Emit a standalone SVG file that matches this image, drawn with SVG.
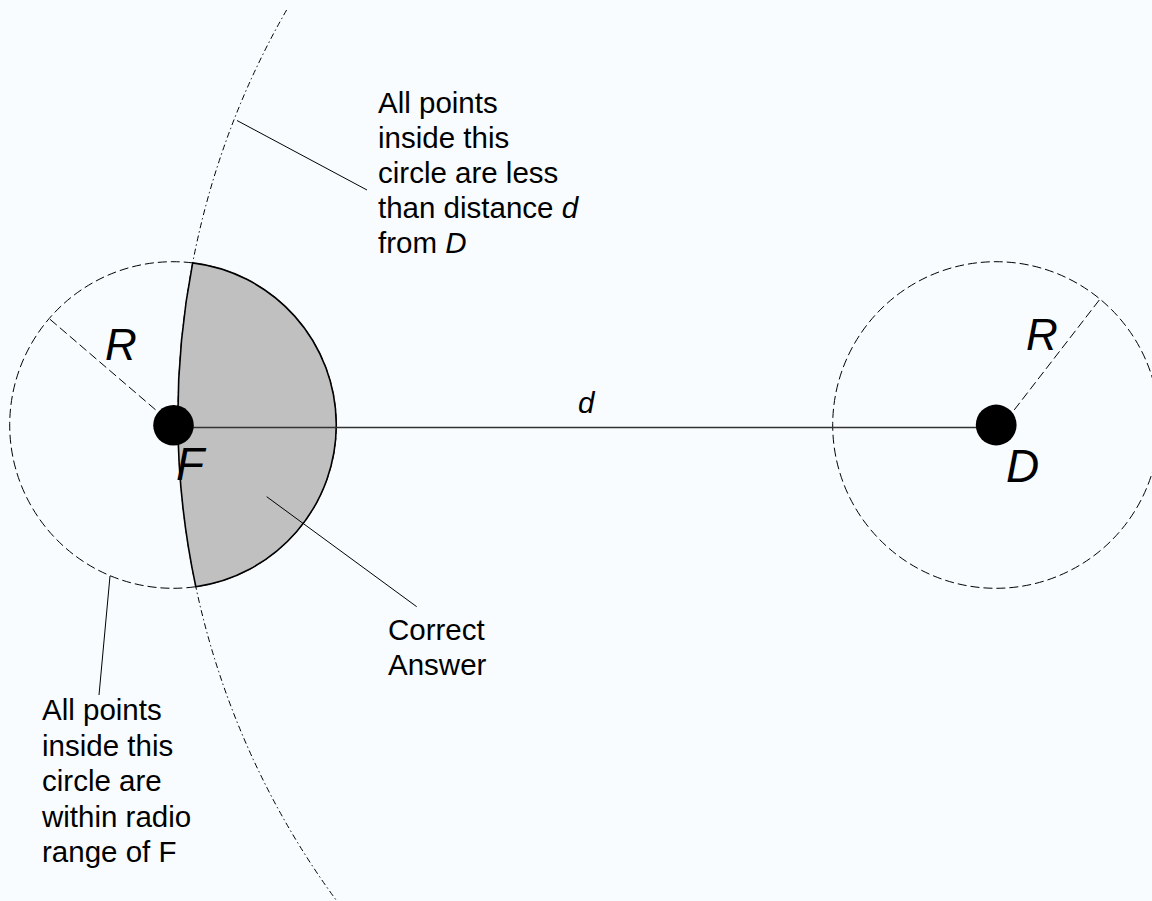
<svg xmlns="http://www.w3.org/2000/svg" width="1152" height="901" viewBox="0 0 1152 901">
  <style>
    .lbl { font-family: "Liberation Sans", Arial, sans-serif; font-size: 29.5px; fill: #000; }
    .it { font-family: "Liberation Sans", Arial, sans-serif; font-style: italic; fill: #000; }
    .dash { fill: none; stroke: #000; stroke-width: 1; stroke-dasharray: 9 4; }
    .dashdot { fill: none; stroke: #000; stroke-width: 1; stroke-dasharray: 6 3 1.5 3; }
    .leader { stroke: #000; stroke-width: 1; fill: none; }
  </style>
  <rect x="0" y="0" width="1152" height="901" fill="#f8fcfe"/>

  <g id="range-circle-F">
    <circle cx="173" cy="425" r="163.3" class="dash"/>
  </g>
  <g id="range-circle-D">
    <circle cx="996" cy="425" r="163.3" class="dash"/>
  </g>
  <g id="distance-arc">
    <path d="M 286.6 10 A 817 817 0 0 0 336.8 901" class="dashdot"/>
  </g>
  <g id="correct-answer-region">
    <path d="M 192.67 262.9 A 163.3 163.3 0 0 1 195.8 586.7 A 817 817 0 0 1 192.67 262.9 Z" fill="#c0c0c0" stroke="#000" stroke-width="1.6"/>
  </g>

  <g id="connectors">
    <line x1="193" y1="427.5" x2="976" y2="427.5" stroke="#333" stroke-width="1.5"/>
    <line x1="50" y1="319.3" x2="157" y2="411" class="dash" stroke-dasharray="7 4"/>
    <line x1="1099.3" y1="300" x2="1013" y2="411.5" class="dash" stroke-dasharray="7 4"/>
    <line x1="237" y1="120.5" x2="367" y2="190" class="leader"/>
    <line x1="110" y1="576" x2="99" y2="695" class="leader"/>
    <line x1="266.7" y1="496.7" x2="416.7" y2="606.7" class="leader"/>
  </g>

  <g id="node-F">
    <circle cx="173.5" cy="425.3" r="20.3" fill="#000"/>
    <text x="176" y="480" class="it" font-size="46">F</text>
    <text x="105" y="360" class="it" font-size="44">R</text>
  </g>
  <g id="node-D">
    <circle cx="996.2" cy="425" r="20.4" fill="#000"/>
    <text x="1006" y="482" class="it" font-size="46">D</text>
    <text x="1026" y="350" class="it" font-size="44">R</text>
  </g>
  <g id="label-d">
    <text x="578" y="413" class="it" font-size="29.5">d</text>
  </g>
  <g id="note-distance">
    <text class="lbl" x="378" y="113">All points</text>
    <text class="lbl" x="378" y="148">inside this</text>
    <text class="lbl" x="378" y="183">circle are less</text>
    <text class="lbl" x="378" y="218">than distance <tspan font-style="italic">d</tspan></text>
    <text class="lbl" x="378" y="253">from <tspan font-style="italic">D</tspan></text>
  </g>
  <g id="note-radio">
    <text class="lbl" x="42" y="720">All points</text>
    <text class="lbl" x="42" y="755.5">inside this</text>
    <text class="lbl" x="42" y="791">circle are</text>
    <text class="lbl" x="42" y="826.5">within radio</text>
    <text class="lbl" x="42" y="862">range of F</text>
  </g>
  <g id="note-answer">
    <text class="lbl" x="388" y="640">Correct</text>
    <text class="lbl" x="388" y="675">Answer</text>
  </g>
</svg>
